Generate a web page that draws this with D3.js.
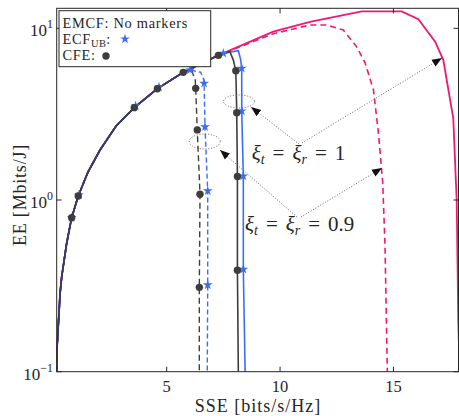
<!DOCTYPE html>
<html><head><meta charset="utf-8">
<script src="https://cdn.jsdelivr.net/npm/d3@7"></script>
<style>
body{margin:0;background:#fff}
svg{display:block}
text{font-family:"Liberation Serif","Times New Roman",serif;fill:#262626}
</style>
</head><body>
<svg id="chart" width="459" height="416"></svg>
<script>
// Shared low-power part of every curve (SSE in bits/s/Hz, EE in Mbits/J)
const riseSSE = [0.15, 0.16, 0.30, 0.37, 0.59, 0.81, 1.10, 1.53, 2.06, 2.77, 3.57, 4.59, 5.73];
const riseEE  = [0.10, 0.134, 0.287, 0.357, 0.56, 0.789, 1.055, 1.456, 1.955, 2.70, 3.45, 4.45, 5.54];

// Tails after the shared part
const emcf1SSE = [7.28, 9.70, 11.32, 13.6, 15.37, 16.1, 16.84, 17.2, 17.64, 17.79, 17.86, 17.92];
const emcf1EE  = [6.96, 9.56, 10.9, 12.55, 12.55, 11.3, 8.36, 6.53, 2.99, 1.0, 0.2, 0.1];
const emcf09SSE = [7.28, 9.70, 11.32, 12.06, 12.79, 13.38, 13.75, 14.12, 14.34, 14.53, 14.63, 14.73];
const emcf09EE  = [6.96, 9.30, 10.45, 10.45, 9.77, 7.8, 6.3, 4.37, 2.45, 1.25, 0.535, 0.1];
const cfe1SSE = [7.28, 7.79, 7.94, 8.05, 8.09, 8.12, 8.12, 8.16];
const cfe1EE  = [6.96, 7.3, 6.53, 5.66, 3.22, 1.37, 0.39, 0.1];
const cfe09SSE = [6.12, 6.26, 6.28, 6.35, 6.47, 6.44, 6.44];
const cfe09EE  = [5.6, 5.0, 4.47, 2.56, 1.08, 0.31, 0.1];
const ecf1SSE = [7.28, 7.50, 8.16, 8.26, 8.31, 8.31, 8.38, 8.38, 8.46];
const ecf1EE  = [6.96, 7.15, 7.4, 6.6, 5.85, 3.30, 1.38, 0.395, 0.1];
const ecf09SSE = [6.03, 6.50, 6.62, 6.65, 6.69, 6.81, 6.81, 6.79];
const ecf09EE  = [5.72, 5.55, 5.1, 4.78, 2.67, 1.13, 0.32, 0.1];

// Marker positions
const cfeMarkSSE = [0.81, 1.10, 3.57, 4.59, 5.73, 7.28, 8.05, 8.09, 8.12, 8.12, 6.28, 6.35, 6.47, 6.44];
const cfeMarkEE  = [0.789, 1.055, 3.45, 4.45, 5.54, 6.96, 5.66, 3.22, 1.37, 0.39, 4.47, 2.56, 1.08, 0.31];
const ecfMarkSSE = [0.81, 1.13, 3.63, 4.66, 6.03, 7.50, 8.31, 8.31, 8.38, 8.38, 6.65, 6.69, 6.81, 6.81];
const ecfMarkEE  = [0.789, 1.07, 3.53, 4.55, 5.72, 7.15, 5.85, 3.30, 1.38, 0.395, 4.78, 2.67, 1.13, 0.32];

const xTicks = [5, 10, 15];
const yTicks = [0.1, 1, 10];
const yTickExp = ["\u22121", "0", "1"];

const PINK = "#f5166f", BLUE = "#3a6ef5", DARK = "#3d3d3d";

const svg = d3.select("#chart");
const L = 56.7, R = 458.5, T = 8.3, B = 371.7;
const x = d3.scaleLinear().domain([0.15, 17.87]).range([L, R]);
const y = d3.scaleLog().domain([0.1, 13.08]).range([B, T]);

const zip = (a, b) => a.map((v, i) => [v, b[i]]);
const rise = zip(riseSSE, riseEE);
const line = d3.line().x(d => x(d[0])).y(d => y(d[1]));

svg.append("clipPath").attr("id", "plot").append("rect")
  .attr("x", L).attr("y", T).attr("width", R - L).attr("height", B - T);
const g = svg.append("g").attr("clip-path", "url(#plot)");

const series = [
  {pts: rise.concat(zip(emcf09SSE, emcf09EE)), c: PINK, w: 1.6, dash: "6,4"},
  {pts: rise.concat(zip(emcf1SSE, emcf1EE)), c: PINK, w: 1.8, dash: null},
  {pts: rise.concat(zip(ecf09SSE, ecf09EE)), c: BLUE, w: 1.4, dash: "5,3"},
  {pts: rise.concat(zip(cfe09SSE, cfe09EE)), c: DARK, w: 1.4, dash: "6,3.5"},
  {pts: rise.concat(zip(ecf1SSE, ecf1EE)), c: BLUE, w: 1.6, dash: null},
  {pts: rise.concat(zip(cfe1SSE, cfe1EE)), c: DARK, w: 1.6, dash: null}
];
series.forEach(s => {
  g.append("path").attr("d", line(s.pts)).attr("fill", "none")
    .attr("stroke", s.c).attr("stroke-width", s.w)
    .attr("stroke-dasharray", s.dash);
});
// overlapping shared part
g.append("path").attr("d", line(rise.concat([[7.28, 6.96]]))).attr("fill", "none")
  .attr("stroke", "#38386a").attr("stroke-width", 1.6);

// markers
const star = d3.symbol().type(d3.symbolStar).size(30);
g.selectAll(".star").data(zip(ecfMarkSSE, ecfMarkEE)).join("path")
  .attr("d", star).attr("fill", BLUE)
  .attr("transform", d => `translate(${x(d[0])},${y(d[1])})`);
g.selectAll(".dot").data(zip(cfeMarkSSE, cfeMarkEE)).join("circle")
  .attr("cx", d => x(d[0])).attr("cy", d => y(d[1])).attr("r", 3.7).attr("fill", DARK);

// axes box and ticks
const ax = svg.append("g").attr("stroke", "#262626").attr("stroke-width", 1);
ax.append("rect").attr("x", L).attr("y", T).attr("width", R - L).attr("height", B - T).attr("fill", "none");
xTicks.forEach(t => {
  ax.append("line").attr("x1", x(t)).attr("x2", x(t)).attr("y1", B).attr("y2", B - 5);
  ax.append("line").attr("x1", x(t)).attr("x2", x(t)).attr("y1", T).attr("y2", T + 5);
});
yTicks.forEach(t => {
  ax.append("line").attr("x1", L).attr("x2", L + 5).attr("y1", y(t)).attr("y2", y(t));
  ax.append("line").attr("x1", R).attr("x2", R - 5).attr("y1", y(t)).attr("y2", y(t));
});

// tick labels
svg.selectAll(".xt").data(xTicks).join("text")
  .attr("x", d => x(d)).attr("y", 392).attr("text-anchor", "middle")
  .attr("font-size", 16.5).text(d => d);
yTicks.forEach((t, i) => {
  const tx = svg.append("text").attr("y", y(t) + 8).attr("x", 53).attr("text-anchor", "end").attr("font-size", 17);
  tx.append("tspan").text("10");
  tx.append("tspan").attr("font-size", 12).attr("dy", -8).text(yTickExp[i]);
});

// axis titles
svg.append("text").attr("x", 258).attr("y", 411.5).attr("text-anchor", "middle")
  .attr("font-size", 18).attr("letter-spacing", 1).text("SSE [bits/s/Hz]");
svg.append("text").attr("transform", "translate(26,195) rotate(-90)").attr("text-anchor", "middle")
  .attr("font-size", 18).attr("letter-spacing", 0.8).text("EE [Mbits/J]");

// legend
const lg = svg.append("g");
lg.append("rect").attr("x", 59).attr("y", 10.7).attr("width", 151.7).attr("height", 56)
  .attr("fill", "#fff").attr("stroke", "#262626").attr("stroke-width", 1);
const lt = lg.append("text").attr("font-size", 14.4).attr("letter-spacing", 0.7);
lt.append("tspan").attr("x", 62.5).attr("y", 27.5).text("EMCF: No markers");
lt.append("tspan").attr("x", 62.5).attr("y", 43.5).text("ECF");
lt.append("tspan").attr("font-size", 10.5).attr("letter-spacing", 0.3).attr("dy", 3).text("UB");
lt.append("tspan").attr("dy", -3).text(":");
lt.append("tspan").attr("x", 62.5).attr("y", 59.5).text("CFE:");
lg.append("path").attr("d", star).attr("fill", BLUE).attr("transform", "translate(125,39)");
lg.append("circle").attr("cx", 106).attr("cy", 56).attr("r", 3.7).attr("fill", DARK);

// annotations
svg.append("defs").append("marker").attr("id", "ah")
  .attr("viewBox", "0 0 10 10").attr("refX", 10).attr("refY", 5)
  .attr("markerWidth", 10).attr("markerHeight", 10).attr("markerUnits", "userSpaceOnUse")
  .attr("orient", "auto")
  .append("path").attr("d", "M0,1 L10,5 L0,9 Z").attr("fill", "#111");

const an = svg.append("g").attr("fill", "none").attr("stroke", "#555").attr("stroke-width", 0.9)
  .attr("stroke-dasharray", "1,1.8");
an.append("ellipse").attr("cx", 239).attr("cy", 101.5).attr("rx", 15.5).attr("ry", 6.5);
an.append("ellipse").attr("cx", 204.7).attr("cy", 141.5).attr("rx", 15.5).attr("ry", 7.5);
[[299, 144, 251, 107], [302, 143, 442, 58], [297, 217, 220, 150], [301, 217, 382, 168]].forEach(a => {
  an.append("line").attr("x1", a[0]).attr("y1", a[1]).attr("x2", a[2]).attr("y2", a[3])
    .attr("marker-end", "url(#ah)");
});

function eq(xp, yp, val) {
  const t = svg.append("text").attr("x", xp).attr("y", yp).attr("font-size", 21);
  t.append("tspan").attr("font-style", "italic").text("\u03be");
  t.append("tspan").attr("font-style", "italic").attr("font-size", 14).attr("dy", 4).text("t");
  t.append("tspan").attr("dy", -4).attr("dx", 8).text("=");
  t.append("tspan").attr("font-style", "italic").attr("dx", 8).text("\u03be");
  t.append("tspan").attr("font-style", "italic").attr("font-size", 14).attr("dy", 4).text("r");
  t.append("tspan").attr("dy", -4).attr("dx", 8).text("=");
  t.append("tspan").attr("dx", 8).text(val);
}
eq(251.7, 160, "1");
eq(245, 231, "0.9");
</script>
</body></html>
